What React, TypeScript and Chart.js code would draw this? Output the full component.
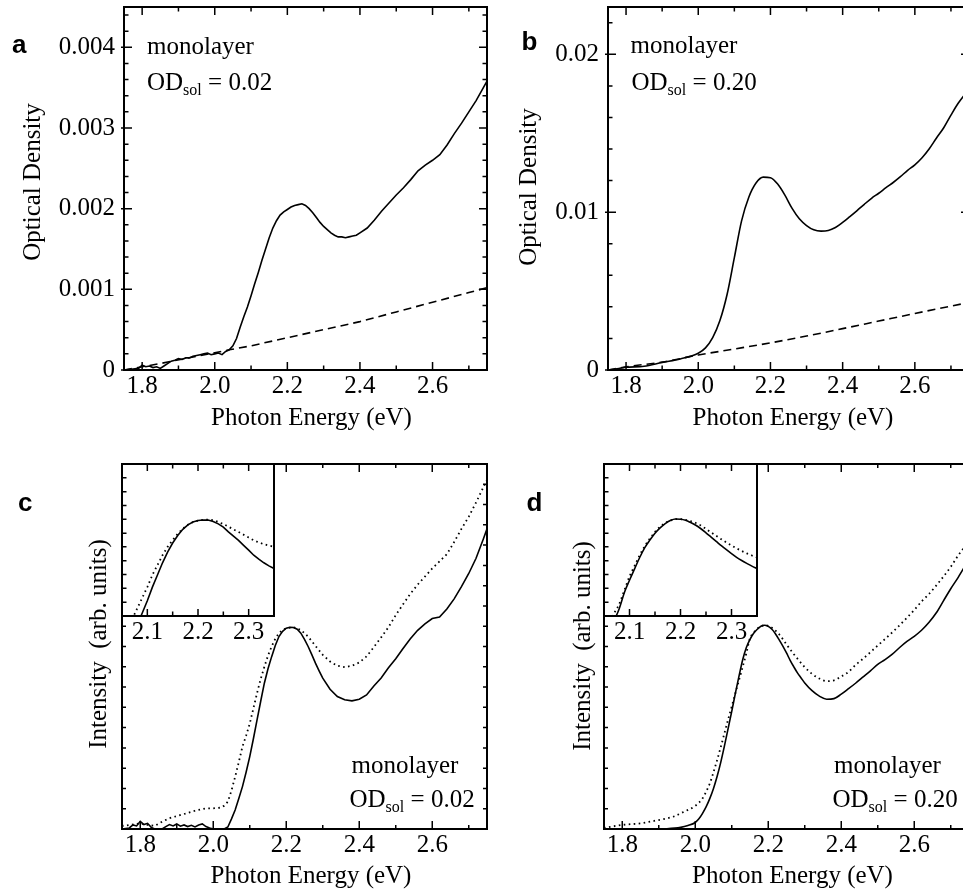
import { useEffect, useRef } from 'react';
import { Chart, registerables } from 'chart.js';

Chart.register(...registerables);

const SERIF = "'Liberation Serif', 'Times New Roman', serif";
const SANS = "'Liberation Sans', Arial, sans-serif";

// ---------- tick values / labels ----------
const energyMajorTicks = [1.8, 2.0, 2.2, 2.4, 2.6];
const energyTickLabels = ['1.8', '2.0', '2.2', '2.4', '2.6'];
const energyMinorTicks = [1.9, 2.1, 2.3, 2.5, 2.7];

const insetMajorTicks = [2.1, 2.2, 2.3];
const insetTickLabels = ['2.1', '2.2', '2.3'];
const insetMinorTicks = [2.15, 2.25];

const odAMajorTicks = [0, 0.001, 0.002, 0.003, 0.004];
const odATickLabels = ['0', '0.001', '0.002', '0.003', '0.004'];
const odAMinorTicks = [0.0002, 0.0004, 0.0006, 0.0008, 0.0012, 0.0014, 0.0016, 0.0018, 0.0022, 0.0024, 0.0026, 0.0028, 0.0032, 0.0034, 0.0036, 0.0038, 0.0042, 0.0044];

const odBMajorTicks = [0, 0.01, 0.02];
const odBTickLabels = ['0', '0.01', '0.02'];
const odBMinorTicks = [0.002, 0.004, 0.006, 0.008, 0.012, 0.014, 0.016, 0.018, 0.022];

const intensityMinorTicks = [0, 1, 2, 3, 4, 5, 6, 7, 8, 9, 10, 11, 12, 13, 14, 15, 16, 17, 18];
const insetIntensityMinorTicks = [0, 0.091, 0.182, 0.273, 0.364, 0.455, 0.545, 0.636, 0.727, 0.818, 0.909];

// ---------- panel a: monolayer, OD_sol = 0.02 ----------
const aEnergy = [1.75, 1.77, 1.79, 1.80, 1.81, 1.82, 1.83, 1.84, 1.85, 1.86, 1.87, 1.88, 1.89, 1.90, 1.91, 1.92, 1.93, 1.94, 1.95, 1.96, 1.97, 1.98, 1.99, 2.00, 2.01, 2.02, 2.03, 2.04, 2.05, 2.06, 2.07, 2.08, 2.09, 2.10, 2.11, 2.12, 2.13, 2.14, 2.15, 2.16, 2.17, 2.18, 2.19, 2.20, 2.21, 2.22, 2.23, 2.24, 2.25, 2.26, 2.27, 2.28, 2.29, 2.30, 2.31, 2.32, 2.33, 2.34, 2.35, 2.36, 2.37, 2.38, 2.39, 2.40, 2.42, 2.44, 2.46, 2.48, 2.50, 2.52, 2.54, 2.56, 2.58, 2.60, 2.62, 2.64, 2.66, 2.68, 2.70, 2.72, 2.74, 2.75];
const aOD = [0, 0.00001, 0.00002, 0.00006, 0.00004, 0.00005, 0.00003, 0.00004, 0.00002, 0.00005, 0.00008, 0.00011, 0.00012, 0.00014, 0.00013, 0.00015, 0.00015, 0.00017, 0.00018, 0.00019, 0.0002, 0.00021, 0.00019, 0.0002, 0.00021, 0.00019, 0.00023, 0.00025, 0.0003, 0.00039, 0.00053, 0.00066, 0.00078, 0.00092, 0.00107, 0.00121, 0.00136, 0.0015, 0.00164, 0.00176, 0.00185, 0.00192, 0.00196, 0.00199, 0.00202, 0.00204, 0.00205, 0.00206, 0.00204, 0.002, 0.00195, 0.00189, 0.00183, 0.00178, 0.00174, 0.0017, 0.00167, 0.00165, 0.00165, 0.00164, 0.00165, 0.00166, 0.00167, 0.0017, 0.00176, 0.00186, 0.00197, 0.00207, 0.00217, 0.00226, 0.00236, 0.00247, 0.00254, 0.0026, 0.00267, 0.00279, 0.00293, 0.00306, 0.0032, 0.00334, 0.0035, 0.00358];
const aBgEnergy = [1.75, 1.85, 1.95, 2.04, 2.10, 2.20, 2.30, 2.40, 2.50, 2.60, 2.70, 2.75];
const aBgOD = [0, 0.00008, 0.00017, 0.00025, 0.0003, 0.0004, 0.0005, 0.0006, 0.00072, 0.00084, 0.00096, 0.00102];

// ---------- panel b: monolayer, OD_sol = 0.20 ----------
const bEnergy = [1.75, 1.78, 1.80, 1.85, 1.90, 1.95, 2.00, 2.02, 2.04, 2.06, 2.08, 2.10, 2.12, 2.14, 2.16, 2.18, 2.20, 2.22, 2.24, 2.26, 2.28, 2.30, 2.32, 2.34, 2.36, 2.38, 2.40, 2.42, 2.44, 2.46, 2.48, 2.50, 2.52, 2.54, 2.56, 2.58, 2.60, 2.62, 2.64, 2.66, 2.68, 2.70, 2.72, 2.75];
const bOD = [0, 0.0001, 0.00017, 0.00024, 0.00048, 0.0007, 0.00106, 0.0014, 0.00205, 0.00313, 0.0048, 0.00712, 0.00945, 0.01095, 0.01185, 0.01222, 0.01218, 0.01178, 0.01108, 0.01024, 0.00958, 0.00915, 0.00888, 0.0088, 0.00884, 0.00903, 0.00935, 0.00972, 0.0101, 0.0105, 0.01088, 0.0112, 0.01155, 0.01188, 0.01225, 0.01265, 0.013, 0.01345, 0.01402, 0.0147, 0.01535, 0.01615, 0.0169, 0.0178];
const bBgEnergy = [1.75, 1.80, 1.90, 2.00, 2.10, 2.20, 2.30, 2.40, 2.50, 2.60, 2.70, 2.75];
const bBgOD = [0, 0.0002, 0.0005, 0.00095, 0.00133, 0.00172, 0.00215, 0.00262, 0.0031, 0.00358, 0.00405, 0.00428];

// ---------- panel c: intensity, OD_sol = 0.02 ----------
const cEnergy = [1.75, 1.77, 1.78, 1.79, 1.80, 1.81, 1.82, 1.83, 1.84, 1.86, 1.87, 1.88, 1.89, 1.90, 1.91, 1.92, 1.93, 1.94, 1.95, 1.96, 1.97, 1.98, 1.99, 2.00, 2.03, 2.04, 2.05, 2.06, 2.07, 2.08, 2.09, 2.10, 2.11, 2.12, 2.13, 2.14, 2.15, 2.16, 2.17, 2.18, 2.19, 2.20, 2.21, 2.22, 2.23, 2.24, 2.25, 2.26, 2.27, 2.28, 2.29, 2.30, 2.32, 2.34, 2.36, 2.38, 2.40, 2.42, 2.44, 2.46, 2.48, 2.50, 2.52, 2.54, 2.56, 2.58, 2.60, 2.62, 2.64, 2.66, 2.68, 2.70, 2.72, 2.74, 2.75];
const cSolid = [0, 0.05, 0.2, 0.15, 0.38, 0.22, 0.28, 0.08, 0, 0, 0.12, 0.22, 0.15, 0.25, 0.14, 0.2, 0.12, 0.18, 0.1, 0.2, 0.25, 0.12, 0.05, 0, 0, 0.1, 0.5, 0.94, 1.5, 2.09, 2.8, 3.57, 4.45, 5.38, 6.3, 7.19, 7.9, 8.5, 9.05, 9.49, 9.75, 9.9, 9.95, 9.94, 9.85, 9.66, 9.35, 9.0, 8.6, 8.18, 7.8, 7.44, 6.89, 6.53, 6.37, 6.32, 6.4, 6.61, 7.05, 7.45, 7.95, 8.4, 8.9, 9.38, 9.8, 10.12, 10.38, 10.45, 10.85, 11.35, 11.95, 12.6, 13.35, 14.3, 14.8];
const cDotEnergy = [1.75, 1.77, 1.80, 1.82, 1.84, 1.86, 1.88, 1.90, 1.92, 1.95, 1.98, 2.00, 2.02, 2.03, 2.04, 2.05, 2.06, 2.07, 2.08, 2.09, 2.10, 2.11, 2.12, 2.13, 2.14, 2.15, 2.16, 2.17, 2.18, 2.19, 2.20, 2.22, 2.24, 2.26, 2.28, 2.30, 2.32, 2.34, 2.36, 2.38, 2.40, 2.42, 2.44, 2.46, 2.48, 2.50, 2.52, 2.54, 2.56, 2.58, 2.60, 2.62, 2.64, 2.66, 2.68, 2.70, 2.72, 2.74, 2.75];
const cDotted = [0.15, 0.2, 0.28, 0.2, 0.15, 0.36, 0.53, 0.64, 0.74, 0.9, 1.02, 1.02, 1.05, 1.15, 1.35, 1.9, 2.58, 3.3, 4.06, 4.6, 5.2, 5.95, 6.7, 7.4, 8.0, 8.55, 9.0, 9.38, 9.66, 9.82, 9.9, 9.95, 9.82, 9.49, 9.03, 8.59, 8.26, 8.05, 7.98, 8.05, 8.21, 8.51, 8.97, 9.45, 9.95, 10.55, 11.08, 11.6, 12.05, 12.45, 12.85, 13.2, 13.55, 14.15, 14.8, 15.4, 16.1, 16.85, 17.2];

// ---------- inset c ----------
const cInsetEnergy = [2.085, 2.09, 2.10, 2.11, 2.12, 2.13, 2.14, 2.15, 2.16, 2.17, 2.18, 2.19, 2.20, 2.21, 2.22, 2.23, 2.24, 2.25, 2.26, 2.27, 2.28, 2.29, 2.30, 2.31, 2.32, 2.33, 2.34, 2.35];
const cInsetSolid = [-0.02, 0.02, 0.1, 0.19, 0.27, 0.35, 0.42, 0.48, 0.53, 0.57, 0.6, 0.618, 0.628, 0.632, 0.631, 0.622, 0.606, 0.585, 0.553, 0.525, 0.497, 0.465, 0.433, 0.4, 0.374, 0.35, 0.33, 0.313];
const cInsetDotEnergy = [2.07, 2.08, 2.09, 2.10, 2.11, 2.12, 2.13, 2.14, 2.15, 2.16, 2.17, 2.18, 2.19, 2.20, 2.21, 2.22, 2.23, 2.24, 2.25, 2.26, 2.27, 2.28, 2.29, 2.30, 2.31, 2.32, 2.33, 2.34, 2.35];
const cInsetDotted = [-0.02, 0.05, 0.12, 0.19, 0.27, 0.335, 0.4, 0.455, 0.5, 0.54, 0.575, 0.6, 0.618, 0.628, 0.633, 0.634, 0.63, 0.619, 0.605, 0.588, 0.57, 0.553, 0.535, 0.516, 0.498, 0.484, 0.472, 0.463, 0.456];

// ---------- panel d: intensity, OD_sol = 0.20 ----------
const dEnergy = [1.75, 1.90, 1.92, 1.96, 1.98, 2.00, 2.01, 2.02, 2.03, 2.04, 2.05, 2.06, 2.07, 2.08, 2.09, 2.10, 2.11, 2.12, 2.13, 2.14, 2.15, 2.16, 2.17, 2.18, 2.19, 2.20, 2.21, 2.22, 2.23, 2.24, 2.25, 2.26, 2.27, 2.28, 2.29, 2.30, 2.32, 2.34, 2.36, 2.38, 2.40, 2.42, 2.44, 2.46, 2.48, 2.50, 2.52, 2.54, 2.56, 2.58, 2.60, 2.62, 2.64, 2.66, 2.68, 2.70, 2.72, 2.75];
const dSolid = [0, 0, 0.01, 0.08, 0.17, 0.32, 0.5, 0.77, 1.1, 1.51, 2.0, 2.6, 3.3, 4.1, 4.95, 5.8, 6.7, 7.55, 8.35, 8.95, 9.35, 9.65, 9.85, 10.0, 10.05, 9.99, 9.85, 9.62, 9.33, 9.02, 8.68, 8.32, 8.0, 7.7, 7.45, 7.2, 6.82, 6.55, 6.4, 6.43, 6.65, 6.92, 7.2, 7.5, 7.8, 8.12, 8.35, 8.62, 8.95, 9.25, 9.5, 9.8, 10.18, 10.65, 11.25, 11.85, 12.4, 13.3];
const dDotEnergy = [1.75, 1.80, 1.85, 1.89, 1.94, 1.97, 2.00, 2.02, 2.03, 2.04, 2.05, 2.06, 2.07, 2.08, 2.09, 2.10, 2.11, 2.12, 2.13, 2.14, 2.15, 2.16, 2.17, 2.18, 2.19, 2.20, 2.21, 2.22, 2.23, 2.24, 2.25, 2.26, 2.27, 2.28, 2.30, 2.32, 2.34, 2.36, 2.38, 2.40, 2.42, 2.44, 2.46, 2.48, 2.50, 2.52, 2.54, 2.56, 2.58, 2.60, 2.62, 2.64, 2.66, 2.68, 2.70, 2.72, 2.75];
const dDotted = [0.05, 0.2, 0.28, 0.41, 0.61, 0.86, 1.14, 1.51, 1.85, 2.25, 2.8, 3.4, 4.05, 4.72, 5.4, 6.04, 6.7, 7.35, 8.0, 8.67, 9.41, 9.68, 9.88, 10.0, 10.04, 10.02, 9.93, 9.78, 9.6, 9.36, 9.1, 8.86, 8.62, 8.4, 7.98, 7.65, 7.42, 7.29, 7.33, 7.52, 7.75, 8.1, 8.4, 8.72, 9.05, 9.37, 9.7, 10.05, 10.42, 10.8, 11.22, 11.58, 12.0, 12.45, 12.93, 13.48, 14.2];

// ---------- inset d ----------
const dInsetEnergy = [2.07, 2.08, 2.09, 2.10, 2.11, 2.12, 2.13, 2.14, 2.15, 2.16, 2.17, 2.18, 2.19, 2.20, 2.21, 2.22, 2.23, 2.24, 2.25, 2.26, 2.27, 2.28, 2.29, 2.30, 2.31, 2.32, 2.33, 2.34, 2.35];
const dInsetSolid = [-0.03, 0.05, 0.155, 0.235, 0.31, 0.385, 0.45, 0.5, 0.545, 0.58, 0.608, 0.628, 0.638, 0.637, 0.63, 0.615, 0.597, 0.574, 0.547, 0.519, 0.491, 0.463, 0.436, 0.41, 0.386, 0.365, 0.346, 0.328, 0.313];
const dInsetDotEnergy = [2.06, 2.07, 2.08, 2.09, 2.10, 2.11, 2.12, 2.13, 2.14, 2.15, 2.16, 2.17, 2.18, 2.19, 2.20, 2.21, 2.22, 2.23, 2.24, 2.25, 2.26, 2.27, 2.28, 2.29, 2.30, 2.31, 2.32, 2.33, 2.34, 2.35];
const dInsetDotted = [-0.03, 0.02, 0.08, 0.17, 0.26, 0.33, 0.4, 0.46, 0.51, 0.553, 0.588, 0.612, 0.628, 0.637, 0.637, 0.633, 0.624, 0.612, 0.595, 0.573, 0.55, 0.528, 0.505, 0.484, 0.464, 0.445, 0.428, 0.412, 0.398, 0.385];

// ---------- text ----------
const panelLetters = ['a', 'b', 'c', 'd'];
const sampleLabel = 'monolayer';
const odValues = ['0.02', '0.20', '0.02', '0.20'];
const xTitle = 'Photon Energy (eV)';
const yTitleOD = 'Optical Density';
const yTitleInt = 'Intensity  (arb. units)';

type Kind = 'solid' | 'dashed' | 'dotted';
interface Series { x: number[]; y: number[]; kind: Kind; }
interface TextItem { text: string; x: number; y: number; font: string; align?: CanvasTextAlign; rotate?: boolean; od?: boolean; }
interface PanelCfg {
  box: [number, number, number, number];
  area: [number, number, number, number];
  xRange: [number, number];
  yRange: [number, number];
  xMajor: number[]; xLabels: string[]; xMinor: number[];
  yMajor: number[]; yLabels: string[]; yMinor: number[];
  series: Series[];
  texts: TextItem[];
  yRight: boolean;
  majorLen: number; minorLen: number; leftOut: number;
  whiteFill: boolean;
  smooth: boolean;
}

const F25 = `25px ${SERIF}`;
const LETTER = `bold 26px ${SANS}`;

function panelTexts(i: number, p: { letter: [number, number]; mono: [number, number]; od: [number, number]; xt: [number, number]; yt: [number, number] }, yTitle: string): TextItem[] {
  return [
    { text: panelLetters[i], x: p.letter[0], y: p.letter[1], font: LETTER },
    { text: sampleLabel, x: p.mono[0], y: p.mono[1], font: F25 },
    { text: odValues[i], x: p.od[0], y: p.od[1], font: F25, od: true },
    { text: xTitle, x: p.xt[0], y: p.xt[1], font: F25, align: 'center' },
    { text: yTitle, x: p.yt[0], y: p.yt[1], font: F25, align: 'center', rotate: true },
  ];
}

const panels: PanelCfg[] = [
  {
    box: [0, 0, 490, 440], area: [124, 7, 487, 370],
    xRange: [1.75, 2.75], yRange: [0, 0.0045],
    xMajor: energyMajorTicks, xLabels: energyTickLabels, xMinor: energyMinorTicks,
    yMajor: odAMajorTicks, yLabels: odATickLabels, yMinor: odAMinorTicks,
    series: [{ x: aEnergy, y: aOD, kind: 'solid' }, { x: aBgEnergy, y: aBgOD, kind: 'dashed' }],
    texts: panelTexts(0, { letter: [12, 53], mono: [147, 54], od: [147, 90], xt: [311.5, 425], yt: [40, 182] }, yTitleOD),
    yRight: true, majorLen: 8, minorLen: 4.5, leftOut: 3, whiteFill: false, smooth: false,
  },
  {
    box: [490, 0, 485, 440], area: [608, 7, 969, 370],
    xRange: [1.75, 2.75], yRange: [0, 0.023],
    xMajor: energyMajorTicks, xLabels: energyTickLabels, xMinor: energyMinorTicks,
    yMajor: odBMajorTicks, yLabels: odBTickLabels, yMinor: odBMinorTicks,
    series: [{ x: bEnergy, y: bOD, kind: 'solid' }, { x: bBgEnergy, y: bBgOD, kind: 'dashed' }],
    texts: panelTexts(1, { letter: [521.5, 50], mono: [630.5, 53], od: [631.5, 90], xt: [793, 425], yt: [536, 187] }, yTitleOD),
    yRight: true, majorLen: 8, minorLen: 4.5, leftOut: 3, whiteFill: false, smooth: true,
  },
  {
    box: [0, 440, 490, 454], area: [122, 464, 487, 829],
    xRange: [1.75, 2.75], yRange: [0, 18],
    xMajor: energyMajorTicks, xLabels: energyTickLabels, xMinor: energyMinorTicks,
    yMajor: [], yLabels: [], yMinor: intensityMinorTicks,
    series: [{ x: cEnergy, y: cSolid, kind: 'solid' }, { x: cDotEnergy, y: cDotted, kind: 'dotted' }],
    texts: panelTexts(2, { letter: [18, 511], mono: [351.5, 773], od: [349.5, 806.5], xt: [311, 883], yt: [105.5, 644] }, yTitleInt),
    yRight: true, majorLen: 8, minorLen: 4, leftOut: 0, whiteFill: false, smooth: false,
  },
  {
    box: [490, 440, 485, 454], area: [604, 464, 969, 829],
    xRange: [1.75, 2.75], yRange: [0, 18],
    xMajor: energyMajorTicks, xLabels: energyTickLabels, xMinor: energyMinorTicks,
    yMajor: [], yLabels: [], yMinor: intensityMinorTicks,
    series: [{ x: dEnergy, y: dSolid, kind: 'solid' }, { x: dDotEnergy, y: dDotted, kind: 'dotted' }],
    texts: panelTexts(3, { letter: [526.5, 511], mono: [834, 773], od: [832.5, 806.5], xt: [792.5, 883], yt: [590, 646] }, yTitleInt),
    yRight: true, majorLen: 8, minorLen: 4, leftOut: 0, whiteFill: false, smooth: true,
  },
  {
    box: [100, 455, 190, 200], area: [122, 464, 274, 616],
    xRange: [2.05, 2.35], yRange: [0, 1],
    xMajor: insetMajorTicks, xLabels: insetTickLabels, xMinor: insetMinorTicks,
    yMajor: [], yLabels: [], yMinor: insetIntensityMinorTicks,
    series: [{ x: cInsetEnergy, y: cInsetSolid, kind: 'solid' }, { x: cInsetDotEnergy, y: cInsetDotted, kind: 'dotted' }],
    texts: [],
    yRight: false, majorLen: 7, minorLen: 4.5, leftOut: 0, whiteFill: true, smooth: false,
  },
  {
    box: [582, 455, 190, 200], area: [604, 464, 757, 616],
    xRange: [2.05, 2.35], yRange: [0, 1],
    xMajor: insetMajorTicks, xLabels: insetTickLabels, xMinor: insetMinorTicks,
    yMajor: [], yLabels: [], yMinor: insetIntensityMinorTicks,
    series: [{ x: dInsetEnergy, y: dInsetSolid, kind: 'solid' }, { x: dInsetDotEnergy, y: dInsetDotted, kind: 'dotted' }],
    texts: [],
    yRight: false, majorLen: 7, minorLen: 4.5, leftOut: 0, whiteFill: true, smooth: true,
  },
];

function labeler(majors: number[], labels: string[]) {
  return (v: number | string) => {
    const n = Number(v);
    const i = majors.findIndex((m) => Math.abs(m - n) < 1e-9);
    return i >= 0 ? labels[i] : '';
  };
}

function Panel({ cfg }: { cfg: PanelCfg }) {
  const ref = useRef<HTMLCanvasElement>(null);
  const [L, T, W, H] = cfg.box;
  useEffect(() => {
    const [x0, y0, x1, y1] = cfg.area;
    const xTicks = [...cfg.xMajor, ...cfg.xMinor].sort((a, b) => a - b);
    const yTicks = [...cfg.yMajor, ...cfg.yMinor].sort((a, b) => a - b);

    const decor = {
      id: 'decor',
      beforeDraw(chart: any) {
        if (!cfg.whiteFill) return;
        const a = chart.chartArea;
        const ctx = chart.ctx;
        ctx.save();
        ctx.fillStyle = '#fff';
        ctx.fillRect(a.left, a.top, a.right - a.left, a.bottom - a.top);
        ctx.restore();
      },
      afterDraw(chart: any) {
        const ctx: CanvasRenderingContext2D = chart.ctx;
        const a = chart.chartArea;
        const xs = chart.scales.x;
        const ys = chart.scales.y;
        ctx.save();
        ctx.strokeStyle = '#000';
        ctx.lineWidth = 1.5;
        ctx.beginPath();
        for (const t of xs.ticks) {
          const p = xs.getPixelForValue(t.value);
          const len = t.label ? cfg.majorLen : cfg.minorLen;
          ctx.moveTo(p, a.bottom); ctx.lineTo(p, a.bottom - len);
          ctx.moveTo(p, a.top); ctx.lineTo(p, a.top + len);
        }
        for (const t of ys.ticks) {
          const p = ys.getPixelForValue(t.value);
          const major = !!t.label;
          const len = major ? cfg.majorLen : cfg.minorLen;
          ctx.moveTo(a.left - (major ? cfg.leftOut : 0), p); ctx.lineTo(a.left + len, p);
          if (cfg.yRight) { ctx.moveTo(a.right, p); ctx.lineTo(a.right - len, p); }
        }
        ctx.stroke();
        ctx.lineWidth = 2;
        ctx.strokeRect(a.left, a.top, a.right - a.left, a.bottom - a.top);

        ctx.fillStyle = '#000';
        for (const it of cfg.texts) {
          const x = it.x - L;
          const y = it.y - T;
          ctx.font = it.font;
          ctx.textBaseline = 'alphabetic';
          if (it.rotate) {
            ctx.save();
            ctx.translate(x, y);
            ctx.rotate(-Math.PI / 2);
            ctx.textAlign = 'center';
            ctx.fillText(it.text, 0, 0);
            ctx.restore();
          } else if (it.od) {
            ctx.textAlign = 'left';
            ctx.fillText('OD', x, y);
            const w1 = ctx.measureText('OD').width;
            ctx.font = `16px ${SERIF}`;
            ctx.fillText('sol', x + w1, y + 5);
            const w2 = ctx.measureText('sol').width;
            ctx.font = it.font;
            ctx.fillText(' = ' + it.text, x + w1 + w2, y);
          } else {
            ctx.textAlign = it.align || 'left';
            ctx.fillText(it.text, x, y);
          }
        }
        ctx.restore();
      },
    };

    const noPad = (s: any) => { s.paddingTop = 0; s.paddingBottom = 0; s.paddingLeft = 0; s.paddingRight = 0; };
    const tickFont = { family: SERIF, size: 25 };
    const chart = new Chart(ref.current as HTMLCanvasElement, {
      type: 'line',
      data: {
        datasets: cfg.series.map((s) => ({
          data: s.x.map((x, i) => ({ x, y: s.y[i] })),
          borderColor: '#000',
          backgroundColor: '#000',
          borderWidth: s.kind === 'dotted' ? 1.8 : 1.6,
          borderDash: s.kind === 'dashed' ? [8, 5] : s.kind === 'dotted' ? [1.6, 3.4] : [],
          pointRadius: 0,
          fill: false,
          tension: cfg.smooth ? 0.4 : 0,
          cubicInterpolationMode: cfg.smooth ? 'monotone' : 'default',
        })),
      },
      options: {
        responsive: false,
        maintainAspectRatio: false,
        animation: false,
        devicePixelRatio: 1,
        events: [],
        layout: { autoPadding: false, padding: { left: 0, top: y0 - T, right: L + W - x1, bottom: 0 } },
        plugins: { legend: { display: false }, tooltip: { enabled: false } },
        scales: {
          x: {
            type: 'linear',
            min: cfg.xRange[0],
            max: cfg.xRange[1],
            afterBuildTicks: (s: any) => { s.ticks = xTicks.map((value) => ({ value })); },
            afterFit: (s: any) => { s.height = T + H - y1; noPad(s); },
            ticks: { callback: labeler(cfg.xMajor, cfg.xLabels), autoSkip: false, maxRotation: 0, minRotation: 0, padding: 1, font: tickFont, color: '#000' },
            grid: { display: false, drawTicks: false },
            border: { display: false },
          },
          y: {
            type: 'linear',
            min: cfg.yRange[0],
            max: cfg.yRange[1],
            afterBuildTicks: (s: any) => { s.ticks = yTicks.map((value) => ({ value })); },
            afterFit: (s: any) => { s.width = x0 - L; noPad(s); },
            ticks: { callback: labeler(cfg.yMajor, cfg.yLabels), autoSkip: false, padding: 9, font: tickFont, color: '#000' },
            grid: { display: false, drawTicks: false },
            border: { display: false },
          },
        },
      } as any,
      plugins: [decor],
    });
    return () => chart.destroy();
  }, [cfg]);
  return <canvas ref={ref} width={W} height={H} style={{ position: 'absolute', left: L, top: T, width: W, height: H }} />;
}

export default function App() {
  return (
    <div style={{ position: 'absolute', left: 0, top: 0, width: 963, height: 894, overflow: 'hidden', background: '#fff' }}>
      {panels.map((p, i) => <Panel key={i} cfg={p} />)}
    </div>
  );
}
